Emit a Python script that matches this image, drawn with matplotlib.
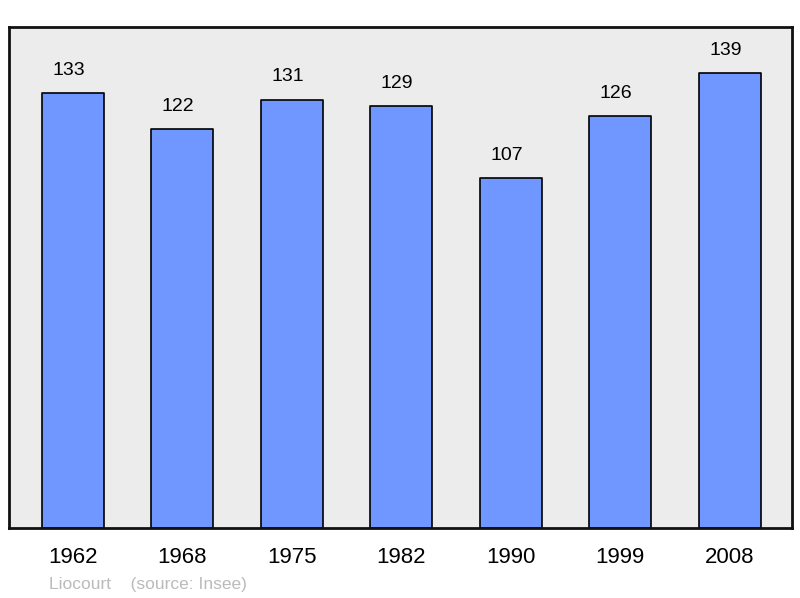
import matplotlib
matplotlib.use('Agg')
import matplotlib.pyplot as plt

plt.rcParams['font.family'] = ['Liberation Sans', 'DejaVu Sans']

years = ['1962', '1968', '1975', '1982', '1990', '1999', '2008']
population = [133, 122, 131, 129, 107, 126, 139]

fig = plt.figure(figsize=(8, 5.98), dpi=100, facecolor='white')
ax = fig.add_axes([9 / 800, 70 / 598, 783 / 800, 501 / 598], facecolor='#ececec')

x = range(len(years))
ax.bar(x, population, width=0.567, color='#7097ff', edgecolor='black',
       linewidth=1.2, joinstyle='round', zorder=2)
for xi, v in zip(x, population):
    ax.annotate(str(v), (xi, v), xytext=(-3, 16.5), textcoords='offset points',
                ha='center', va='center', fontsize=14, color='black')

ax.set_xlim(-0.585, 6.571)
ax.set_ylim(0, 153.2)
ax.set_xticks(list(x))
ax.set_xticklabels(years, fontsize=16)
ax.tick_params(axis='x', length=0, pad=14)
ax.set_yticks([])
for s in ax.spines.values():
    s.set_linewidth(2)
    s.set_color('#111111')

fig.text(49 / 800, 1 - 585 / 598, 'Liocourt    (source: Insee)', fontsize=12.5,
         color='#bbbbbb', va='center', ha='left')

fig.savefig('out.png', dpi=100)
